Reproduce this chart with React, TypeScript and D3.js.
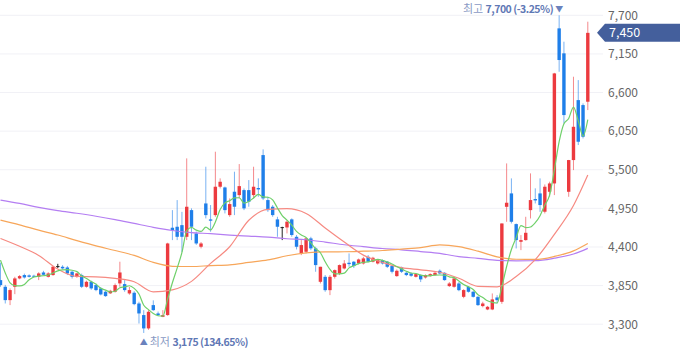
import * as d3 from "d3";

const W = 680;
const H = 358;

// daily candles, oldest first
const opens = [
  3928, 3833, 3643, 3833, 3952, 4000, 3995, 3990, 3975, 4037,
  3975, 4000, 4128, 4118, 4108, 4047, 3975, 4000, 3833, 3904,
  3857, 3810, 3762, 3740, 3762, 3881, 3871, 3738, 3748, 3595,
  3430, 3240, 3572, 3453, 3405, 3430, 4674, 4688, 4711, 4545,
  4925, 4593, 4403, 5020, 4793, 4854, 5258, 5248, 4854, 5187,
  5139, 5210, 5210, 5139, 5240, 5709, 5068, 4973, 4793, 4683,
  4678, 4793, 4545, 4308, 4332, 4522, 4380, 3904, 3975, 3785,
  3975, 4023, 4094, 4175, 4190, 4165, 4165, 4260, 4190, 4165,
  4213, 4190, 4128, 3985, 4108, 4032, 4023, 3975, 4000, 3966,
  3985, 4000, 4061, 4032, 3843, 3833, 3880, 3690, 3833, 3762,
  3690, 3558, 3510, 3510, 3681, 3619, 4972, 5163, 4726, 4474,
  4498, 4925, 5083, 5163, 4902, 5186, 5305, 7514, 7158, 5186,
  5638, 6492, 6421, 6469,
];
const highs = [
  4175, 3860, 3810, 3975, 4000, 4020, 4010, 4005, 4040, 4060,
  4040, 4130, 4160, 4140, 4130, 4060, 4030, 4020, 3920, 3920,
  3880, 3830, 3775, 3790, 3880, 4190, 3928, 3830, 3770, 3620,
  3500, 3500, 3640, 3480, 3500, 4460, 4925, 5068, 4900, 5662,
  4950, 4620, 4470, 5543, 4997, 5757, 5377, 5260, 5092, 5472,
  5581, 5234, 5353, 5543, 5377, 5790, 5115, 4997, 4830, 4688,
  4783, 4807, 4570, 4498, 4530, 4545, 4403, 4118, 4000, 4000,
  4080, 4150, 4213, 4308, 4200, 4235, 4260, 4285, 4260, 4222,
  4222, 4200, 4140, 4080, 4120, 4047, 4035, 4025, 4010, 4010,
  4025, 4045, 4080, 4040, 3900, 3965, 3900, 3800, 3845, 3775,
  3700, 3620, 3560, 3738, 3714, 4735, 5590, 5377, 4735, 4569,
  4830, 5448, 5235, 5377, 5290, 5330, 6880, 7700, 7324, 5640,
  6825, 6777, 6445, 7609,
];
const lows = [
  3833, 3595, 3572, 3728, 3940, 3950, 3965, 3970, 3928, 3995,
  3965, 3990, 4100, 4080, 4000, 3950, 3960, 3815, 3820, 3790,
  3770, 3710, 3690, 3730, 3750, 3833, 3762, 3720, 3570, 3310,
  3175, 3220, 3490, 3415, 3400, 3420, 4498, 4498, 4330, 4498,
  4498, 4430, 4380, 4807, 4617, 4830, 5234, 4878, 4830, 4854,
  5092, 4925, 4973, 5092, 5115, 5068, 4900, 4830, 4545, 4498,
  4593, 4545, 4365, 4284, 4308, 4355, 4047, 3880, 3762, 3714,
  3950, 4000, 4080, 4118, 4100, 4150, 4150, 4180, 4180, 4150,
  4150, 4100, 4023, 3975, 4030, 3985, 3975, 3965, 3900, 3950,
  3975, 3990, 4010, 3920, 3830, 3820, 3770, 3670, 3750, 3680,
  3560, 3540, 3500, 3500, 3595, 3590, 4759, 4735, 4379, 4355,
  4490, 4806, 5020, 4900, 4878, 5115, 5139, 6896, 6160, 5115,
  5495, 5852, 5946, 6350,
];
const closes = [
  3857, 3643, 3786, 3952, 3985, 3966, 3975, 3980, 4023, 4004,
  4023, 4118, 4128, 4095, 4023, 3975, 4023, 3833, 3904, 3810,
  3786, 3724, 3700, 3776, 3857, 4037, 3786, 3786, 3586, 3453,
  3240, 3477, 3500, 3430, 3430, 4450, 4641, 4545, 4545, 4973,
  4688, 4450, 4450, 4854, 4774, 5258, 5329, 4925, 5011, 4973,
  5267, 4950, 5044, 5258, 5220, 5092, 4925, 4854, 4688, 4683,
  4760, 4570, 4403, 4427, 4522, 4380, 4142, 4118, 3785, 3975,
  4070, 4142, 4165, 4156, 4128, 4222, 4237, 4190, 4246, 4213,
  4165, 4118, 4047, 4061, 4047, 4000, 3990, 4013, 3938, 4000,
  4013, 4032, 4023, 3928, 3880, 3952, 3785, 3786, 3762, 3690,
  3572, 3595, 3548, 3653, 3643, 4735, 5030, 4759, 4498, 4498,
  4602, 5068, 5063, 4997, 5258, 5305, 6872, 7063, 6279, 5638,
  6112, 5899, 5970, 7450,
];

// 5-day moving average, one value per candle
const ma5 = [
  4213, 4030, 3890, 3850, 3845, 3866, 3933, 3972, 3986, 3990,
  4001, 4030, 4059, 4074, 4077, 4068, 4049, 3990, 3952, 3909,
  3871, 3811, 3785, 3759, 3769, 3819, 3831, 3848, 3810, 3730,
  3570, 3508, 3451, 3420, 3415, 3657, 3890, 4099, 4322, 4631,
  4678, 4640, 4621, 4683, 4643, 4757, 4933, 5028, 5059, 5099,
  5101, 5025, 5049, 5098, 5148, 5113, 5108, 5070, 4956, 4848,
  4782, 4711, 4621, 4569, 4536, 4460, 4375, 4318, 4189, 4080,
  4018, 4018, 4027, 4102, 4132, 4163, 4182, 4187, 4205, 4222,
  4210, 4186, 4158, 4121, 4088, 4055, 4029, 4022, 3998, 3988,
  3991, 3999, 4001, 3999, 3975, 3963, 3914, 3866, 3833, 3795,
  3719, 3681, 3633, 3612, 3602, 3835, 4122, 4364, 4533, 4704,
  4677, 4685, 4746, 4846, 4998, 5138, 5499, 5899, 6155, 6231,
  6393, 6198, 5980, 6214,
];

// slower averages, read every 4th candle
const maIdx = [0, 4, 8, 12, 16, 20, 24, 28, 32, 36, 40, 44, 48, 52, 56, 60,
  64, 68, 72, 76, 80, 84, 88, 92, 96, 100, 104, 108, 112, 116, 120, 123];
const ma20 = [4522, 4410, 4280, 4085, 3980, 3975, 3952, 3904, 3760, 3790, 3910, 4166,
  4403, 4780, 4935, 4945, 4878, 4670, 4470, 4284, 4180, 4105, 4075, 4040, 3955, 3840,
  3833, 3980, 4220, 4580, 4990, 5424];
const ma60 = [4783, 4715, 4640, 4570, 4490, 4415, 4350, 4280, 4180, 4125, 4122, 4135,
  4145, 4180, 4215, 4275, 4315, 4330, 4332, 4340, 4350, 4370, 4390, 4430, 4405, 4340,
  4260, 4225, 4222, 4265, 4345, 4450];
const ma120 = [5068, 5020, 4965, 4918, 4880, 4838, 4790, 4735, 4680, 4635, 4605, 4590,
  4570, 4555, 4540, 4517, 4503, 4470, 4432, 4405, 4378, 4360, 4335, 4310, 4262, 4238,
  4210, 4203, 4205, 4240, 4300, 4380];

const yTicks = [3300, 3850, 4400, 4950, 5500, 6050, 6600, 7150, 7700];
const lastPrice = 7450;
const highMark = { idx: 117, value: 7700, pct: "-3.25%" };
const lowMark = { idx: 30, value: 3175, pct: "134.65%" };

const UP = "#ec3a3f";
const DOWN = "#1f7fe9";
const FONT = "'Noto Sans CJK KR', 'Noto Sans', sans-serif";

export default function App() {
  const x = d3.scaleLinear().domain([0, opens.length - 1]).range([0.5, 587.8]);
  const y = d3.scaleLinear().domain([3300, 7700]).range([324.2, 15.3]);
  const fmt = d3.format(",");

  const line = d3
    .line<[number, number]>()
    .x((d) => x(d[0]))
    .y((d) => y(d[1]))
    .curve(d3.curveMonotoneX);

  const maLines = [
    { vals: ma120, color: "#b47ef2" },
    { vals: ma60, color: "#f7a65a" },
    { vals: ma20, color: "#f68a82" },
  ];

  const bodyW = 3.4;
  const tagY = y(lastPrice);

  return (
    <div style={{ position: "fixed", left: 0, top: 0 }}>
      <svg width={W} height={H} style={{ display: "block", background: "#fff" }} fontFamily={FONT}>
        {/* grid */}
        {yTicks.map((t) => (
          <line key={t} x1={0} x2={603} y1={y(t)} y2={y(t)} stroke="#f1f1f6" strokeWidth={1} />
        ))}

        {/* candles */}
        {opens.map((o, i) => {
          const c = closes[i];
          const col = c > o ? UP : c < o ? DOWN : "#222";
          const top = y(Math.max(o, c));
          const bot = y(Math.min(o, c));
          return (
            <g key={i}>
              <line
                x1={x(i)}
                x2={x(i)}
                y1={y(highs[i])}
                y2={y(lows[i])}
                stroke={col}
                strokeOpacity={c === o ? 1 : 0.6}
                strokeWidth={1}
              />
              <rect
                x={x(i) - bodyW / 2}
                y={top}
                width={bodyW}
                height={Math.max(1, bot - top)}
                fill={col}
              />
            </g>
          );
        })}

        {/* moving averages */}
        {maLines.map((m, k) => (
          <path
            key={k}
            d={line(maIdx.map((idx, j) => [idx, m.vals[j]] as [number, number])) || ""}
            fill="none"
            stroke={m.color}
            strokeWidth={1.2}
          />
        ))}
        <path
          d={line(ma5.map((v, i) => [i, v] as [number, number])) || ""}
          fill="none"
          stroke="#6fd06a"
          strokeWidth={1.2}
        />

        {/* y axis labels */}
        {yTicks.map((t) => (
          <text key={t} x={608} y={y(t)} dy="0.36em" fontSize={12} fill="#666">
            {fmt(t)}
          </text>
        ))}

        {/* last price tag */}
        <path
          d={`M597,${tagY} L605,${tagY - 9} L680,${tagY - 9} L680,${tagY + 9} L605,${tagY + 9} Z`}
          fill="#445f9c"
        />
        <text x={609} y={tagY} dy="0.36em" fontSize={12.5} fill="#fff">
          {fmt(lastPrice)}
        </text>

        {/* high marker */}
        <text x={x(highMark.idx)} y={9} dy="0.36em" fontSize={8} fill="#6a82bd" textAnchor="middle">
          ▼
        </text>
        <text x={x(highMark.idx) - 6} y={9} dy="0.36em" fontSize={11} textAnchor="end">
          <tspan fill="#8a9ac4">최고 </tspan>
          <tspan fill="#5f78b5" fontWeight="bold" fontSize={10.5} letterSpacing={-0.5}>
            {fmt(highMark.value)} ({highMark.pct})
          </tspan>
        </text>

        {/* low marker */}
        <text x={x(lowMark.idx)} y={342} dy="0.36em" fontSize={8} fill="#6a82bd" textAnchor="middle">
          ▲
        </text>
        <text x={x(lowMark.idx) + 6} y={342} dy="0.36em" fontSize={11}>
          <tspan fill="#8a9ac4">최저 </tspan>
          <tspan fill="#5f78b5" fontWeight="bold" fontSize={10.5} letterSpacing={-0.5}>
            {fmt(lowMark.value)} ({lowMark.pct})
          </tspan>
        </text>
      </svg>
    </div>
  );
}
